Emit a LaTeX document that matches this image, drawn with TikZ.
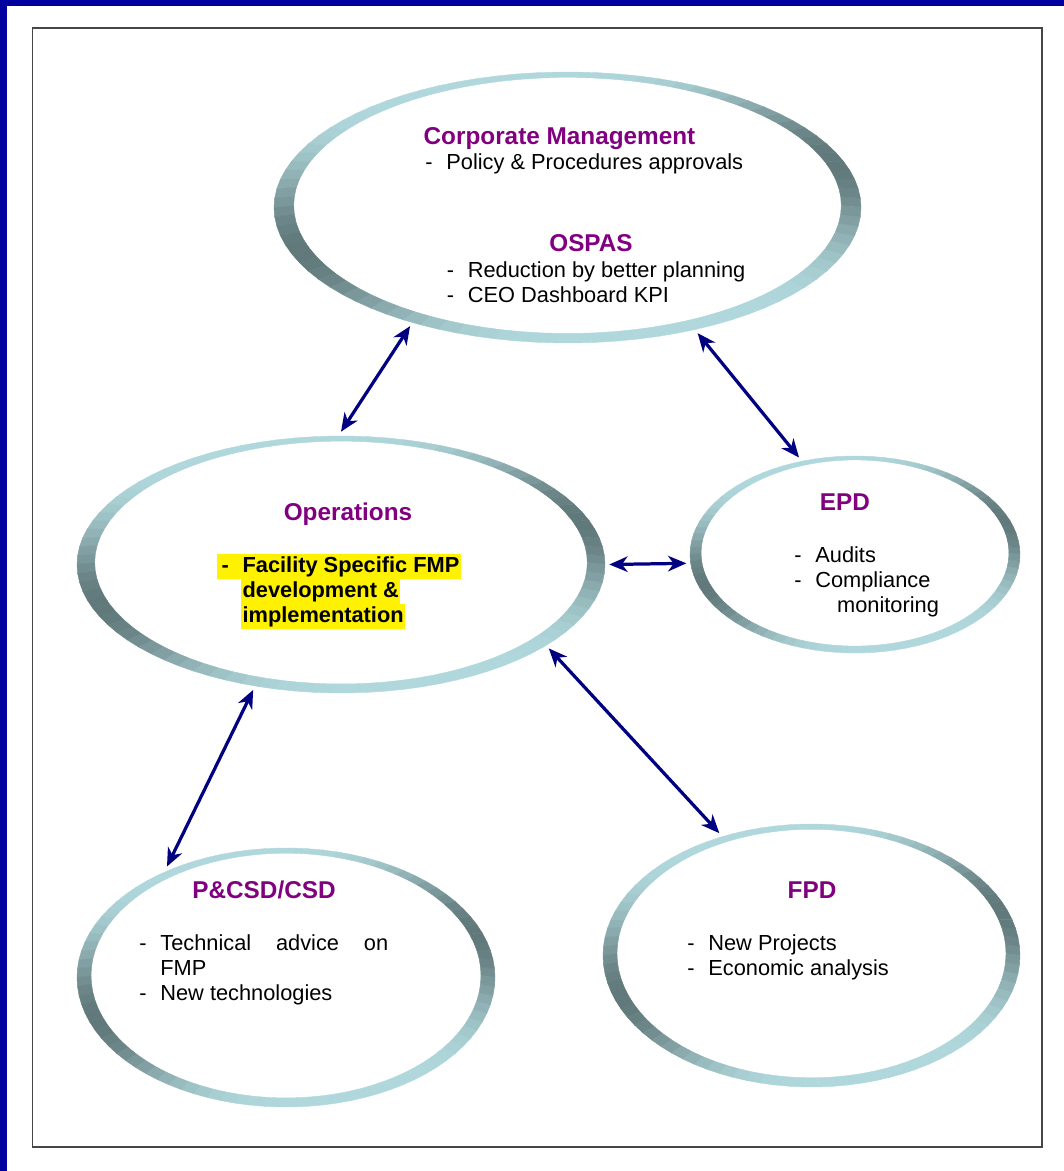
\documentclass[tikz,border=0pt]{standalone}
\usepackage{fontspec}
\setmainfont{Liberation Sans}
\usetikzlibrary{shapes.geometric,arrows.meta,calc}

\definecolor{edgeblue}{RGB}{0,0,160}
\definecolor{arrownavy}{RGB}{0,0,128}
\definecolor{titlepurple}{RGB}{128,0,128}
\definecolor{ringlight}{RGB}{176,216,220}
\definecolor{ringdark}{RGB}{96,120,122}
\definecolor{framegray}{RGB}{70,70,70}

% shaded rim of an ellipse: centre x, centre y, radius x, radius y
\newcommand{\ringedge}[4]{%
  \foreach \a in {0,4,...,356}{%
    \pgfmathtruncatemacro{\dk}{100*((1+cos(2*(\a-18)))/2)^2.5}%
    \filldraw[ringdark!\dk!ringlight,line width=0.3pt]
      ($(#1,#2)+(\a:#3 and #4)$) -- ($(#1,#2)+(\a+4:#3 and #4)$)
      -- ($(#1,#2+0.015*#4)+(\a+4:0.933*#3 and 0.945*#4)$)
      -- ($(#1,#2+0.015*#4)+(\a:0.933*#3 and 0.945*#4)$) -- cycle;
  }%
}
\newcommand{\dashitem}{\makebox[15pt][l]{-}}
\newcommand{\hilite}[1]{{\setlength{\fboxsep}{0pt}\colorbox{yellow}{\rule[-4.5pt]{0pt}{17.8pt}\kern1pt#1\kern1pt}}}

\begin{document}
\begin{tikzpicture}
  [x=0.025cm,y=0.025cm,
   region/.style={shape=ellipse,inner sep=0pt,outer sep=3pt},
   head/.style={font=\fontsize{17.3}{20}\selectfont\bfseries,text=titlepurple,inner sep=0pt,anchor=base},
   items/.style={font=\fontsize{15.5}{17.8}\selectfont,align=left,inner sep=0pt,anchor=base west},
   link/.style={draw=arrownavy,line width=2.3pt,{Stealth[length=13pt,width=11pt,inset=4pt]}-{Stealth[length=13pt,width=11pt,inset=4pt]}}]

  \useasboundingbox (0,0) rectangle (1064,1171);
  \fill[edgeblue] (0,0) rectangle (7,1171);
  \fill[edgeblue] (0,1165) rectangle (1064,1171);
  \draw[framegray,line width=1.4pt] (32.5,24) rectangle (1042,1143);

  \ringedge{567.5}{963.5}{293.5}{135.5}
  \ringedge{341}{606.5}{264}{128.5}
  \ringedge{855}{616.5}{165}{98.5}
  \ringedge{286}{193.5}{209}{129.5}
  \ringedge{811.5}{215.5}{208.5}{131.5}

  \node[region,minimum width=14.675cm,minimum height=6.775cm] (corp) at (567.5,963.5) {};
  \node[region,minimum width=13.2cm,minimum height=6.425cm] (ops) at (341,606.5) {};
  \node[region,minimum width=8.25cm,minimum height=4.925cm] (epd) at (855,616.5) {};
  \node[region,minimum width=10.45cm,minimum height=6.475cm] (pcsd) at (286,193.5) {};
  \node[region,minimum width=10.425cm,minimum height=6.575cm] (fpd) at (811.5,215.5) {};

  % base anchor of a list = baseline of its last line
  \node[head] (corptitle) at (559.5,1026) {Corporate Management};
  \node[items] (corpitems) at (425,1001) {\dashitem Policy \& Procedures approvals};
  \node[head] (ospastitle) at (591,919) {OSPAS};
  \node[items] (ospasitems) at (446.5,868) {\dashitem Reduction by better planning\\ \dashitem CEO Dashboard KPI};

  \node[head] (opstitle) at (348,650) {Operations};
  \node[items,font=\fontsize{15.5}{17.8}\selectfont\bfseries] (opsitems) at (217,548)
    {\hilite{\makebox[17pt][l]{\kern2pt-}Facility Specific FMP}\\ \hspace{17pt}\hilite{development \&}\\ \hspace{17pt}\hilite{implementation}};

  \node[head] (epdtitle) at (845,660) {EPD};
  \node[items] (epditems) at (794,558) {\dashitem Audits\\ \dashitem Compliance\\ \hspace{30.5pt}monitoring};

  \node[head] (pcsdtitle) at (264,272) {P\&CSD/CSD};
  \node[items] (pcsditems) at (139,170) {\dashitem\makebox[162pt][s]{Technical advice on}\\ \hspace{15pt}FMP\\ \dashitem New technologies};

  \node[head] (fpdtitle) at (812,272) {FPD};
  \node[items] (fpditems) at (687,195) {\dashitem New Projects\\ \dashitem Economic analysis};

  \draw[link] (ops.90) -- (corp.217);
  \draw[link] (corp.316) -- (epd.120);
  \draw[link] (ops.east) -- (epd.183);
  \draw[link] (ops.235) -- (pcsd.137);
  \draw[link] (ops.338) -- (fpd.127);
\end{tikzpicture}
\end{document}
